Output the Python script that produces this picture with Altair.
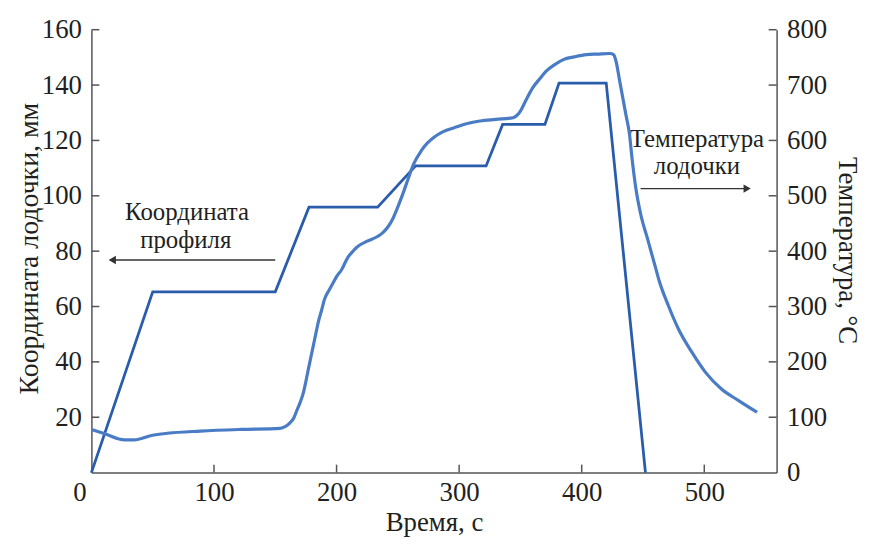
import altair as alt
import pandas as pd

# ---- data ----
coord_t = [0, 50, 150, 177.5, 233.5, 264.5, 322, 335.5, 370, 381.5, 420, 452]
coord_mm = [0, 65.3, 65.3, 95.9, 95.9, 110.8, 110.8, 125.8, 125.8, 140.7, 140.7, 0]

temp_t = [0, 11, 27, 35, 49, 62, 89, 122, 154, 158, 162, 165, 167, 170, 173, 175, 177,
          179, 181, 183, 185, 188, 190, 194, 197, 200, 204, 209, 213, 217, 225, 233,
          238, 242, 246, 250, 254, 258, 263, 269, 274, 279, 287, 296, 306, 317, 330,
          344, 347, 350, 355, 360, 366, 371, 378, 385, 394, 404, 413, 423, 426, 428,
          431, 433, 436, 439, 441, 444, 448, 454, 460, 463, 471, 479, 490, 501, 514,
          528, 543]
temp_c = [78, 70, 59, 59, 67, 71, 75, 78, 80, 83, 90, 98, 109, 125, 145, 165, 187,
          208, 229, 250, 271, 295, 312, 330, 342, 354, 366, 388, 399, 408, 418, 426,
          434, 444, 459, 480, 503, 528, 558, 581, 595, 605, 616, 623, 630, 635, 638,
          641, 645, 653, 675, 695, 712, 725, 737, 746, 751, 755, 756, 757, 755, 743,
          707, 683, 647, 611, 569, 516, 468, 420, 372, 348, 300, 259, 217, 181, 151,
          130, 109]

x_ticks = [0, 100, 200, 300, 400, 500]
left_ticks = [20, 40, 60, 80, 100, 120, 140, 160]
right_ticks = [0, 100, 200, 300, 400, 500, 600, 700, 800]

W, H = 690, 446
FONT = "Liberation Serif"
TXT = "#231f20"
AX = "#555555"
LBL = 27
TTL = 28
ANN = 25

coord = pd.DataFrame({"t": coord_t, "y": coord_mm})
temp = pd.DataFrame({"t": temp_t, "y": temp_c})
xt = pd.DataFrame({"t": x_ticks[1:]})
lt = pd.DataFrame({"y": left_ticks})
rt = pd.DataFrame({"y": right_ticks[1:]})

x_axis = alt.Axis(
    title="Время, с", values=x_ticks, tickSize=0, labelPadding=7, labelFlush=False,
    labelFontSize=LBL, titleFontSize=27, labelFont=FONT, titleFont=FONT,
    labelColor=TXT, titleColor=TXT, domainColor=AX, domainWidth=1.5,
    grid=False, titleFontWeight="normal", titleX=W / 2, titleY=50,
    titleBaseline="middle",
    labelOffset={"condition": {"test": "datum.value == 0", "value": -12}, "value": 0},
)
x_enc = alt.X("t:Q", scale=alt.Scale(domain=[0, 559], nice=False), axis=x_axis)

left_axis = alt.Axis(
    title="Координата лодочки, мм", values=left_ticks, tickSize=0, labelPadding=10,
    labelFontSize=LBL, titleFontSize=TTL, labelFont=FONT, titleFont=FONT,
    labelColor=TXT, titleColor=TXT, domainColor=AX, domainWidth=1.5, grid=False,
    titleFontWeight="normal", titleAngle=270, titleX=-62, titleY=220,
    titleAlign="center", titleBaseline="middle", labelFlush=False,
)
right_axis = alt.Axis(
    title="Температура, °С", orient="right", values=right_ticks, tickSize=0,
    labelPadding=10, labelFontSize=LBL, titleFontSize=27, labelFont=FONT,
    titleFont=FONT, labelColor=TXT, titleColor=TXT, domainColor=AX,
    domainWidth=1.5, grid=False, titleFontWeight="normal", titleAngle=90,
    titleX=70, titleY=222, titleAlign="center", titleBaseline="middle",
    labelFlush=False,
)
yl = alt.Y("y:Q", scale=alt.Scale(domain=[0, 160], nice=False), axis=left_axis)
yr = alt.Y("y:Q", scale=alt.Scale(domain=[0, 800], nice=False), axis=right_axis)

coord_line = alt.Chart(coord).mark_line(color="#2a5cac", strokeWidth=2.8).encode(x=x_enc, y=yl)
x_tick_marks = alt.Chart(xt).mark_rule(color=AX, strokeWidth=1.5).encode(
    x=x_enc, y=alt.value(H), y2=alt.value(H - 8))
left_tick_marks = alt.Chart(lt).mark_rule(color=AX, strokeWidth=1.5).encode(
    y=yl, x=alt.value(0), x2=alt.value(8))

# annotations
ann_left = pd.DataFrame({"t": [78, 77], "y": [94, 84], "s": ["Координата", "профиля"]})
ann_right = pd.DataFrame({"t": [494, 494], "y": [120.5, 110.9], "s": ["Температура", "лодочки"]})
ann = pd.concat([ann_left, ann_right])
ann_text = alt.Chart(ann).mark_text(font=FONT, fontSize=ANN, color=TXT, baseline="middle").encode(
    x=x_enc, y=yl, text="s:N")

arrows = pd.DataFrame({"t": [150, 448], "t2": [17, 535], "y": [76.8, 102.6],
                       "shape": ["triangle-left", "triangle-right"]})
arrow_lines = alt.Chart(arrows).mark_rule(color="#333333", strokeWidth=1.3).encode(
    x=x_enc, x2="t2:Q", y=yl)
arrow_heads = alt.Chart(arrows).mark_point(filled=True, color="#333333", size=70, opacity=1).encode(
    x=alt.X("t2:Q", scale=alt.Scale(domain=[0, 559], nice=False), axis=x_axis),
    y=yl, shape=alt.Shape("shape:N", scale=None))

temp_line = alt.Chart(temp).mark_line(color="#4a7cc6", strokeWidth=3.2,
                                      interpolate="monotone").encode(x=x_enc, y=yr)
right_tick_marks = alt.Chart(rt).mark_rule(color=AX, strokeWidth=1.5).encode(
    y=yr, x=alt.value(W), x2=alt.value(W - 8))

left_part = alt.layer(coord_line, x_tick_marks, left_tick_marks, ann_text, arrow_lines, arrow_heads)
right_part = alt.layer(temp_line, right_tick_marks)

chart = alt.layer(left_part, right_part).resolve_scale(y="independent").properties(
    width=W, height=H,
    autosize=alt.AutoSizeParams(type="none"),
    padding={"left": 84, "top": 20, "right": 86, "bottom": 63},
    background="white",
).configure_view(stroke=None)

chart.save("out.html", embed_options={"renderer": "svg", "actions": False})
